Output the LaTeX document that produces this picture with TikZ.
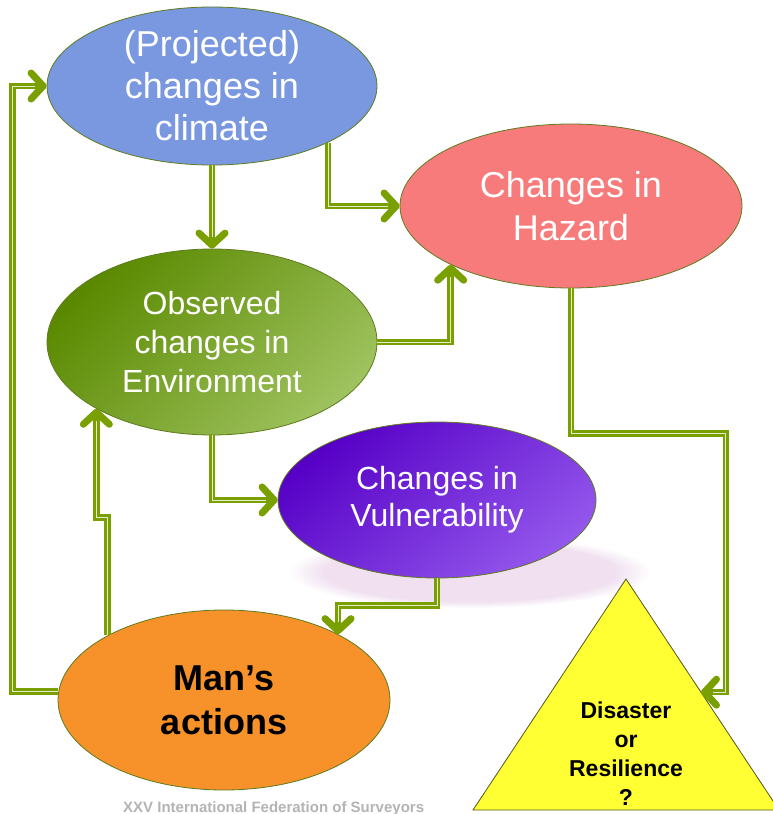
\documentclass[tikz,border=0pt]{standalone}
\usepackage{fontspec}
\setmainfont{Liberation Sans}
\usetikzlibrary{arrows.meta,shapes.geometric,calc,fadings}
\usepackage{xcolor}

\definecolor{linkgreen}{HTML}{79A000}
\definecolor{rimgreen}{HTML}{5E7B1E}
\definecolor{climatefill}{HTML}{7A98E0}
\definecolor{hazardfill}{HTML}{F77B7B}
\definecolor{envdark}{HTML}{5A8900}
\definecolor{envlight}{HTML}{9EC25E}
\definecolor{vulndark}{HTML}{5600C6}
\definecolor{vulnlight}{HTML}{9357EC}
\definecolor{actionsfill}{HTML}{F7922B}
\definecolor{trifill}{HTML}{FFFF33}
\definecolor{tririm}{HTML}{55561C}
\definecolor{footgray}{HTML}{B4B4B4}

\begin{document}
\begin{tikzpicture}[x=1pt, y=-1pt,
    bubble/.style={ellipse, draw=rimgreen, line width=0.8pt, inner sep=0pt, align=center, text=white},
    link/.style={draw=linkgreen, line width=6.5pt,
        -{Straight Barb[length=12pt, width=26pt, line width=7pt, round]},
        postaction={draw=white!80!linkgreen, line width=1pt, arrows=-, shorten >=12pt}}]
    \path[fill=white, use as bounding box] (0,0) rectangle (773,814);

    % soft glow under the vulnerability bubble
    \fill[violet!12, path fading=circle with fuzzy edge 20 percent] (470,572) ellipse [x radius=180, y radius=36];

    % Bubbles
    \node[bubble, fill=climatefill, minimum width=330, minimum height=158,
        font=\fontsize{36}{42}\selectfont] (climate) at (212,86) {(Projected)\\changes in\\climate};
    \node[bubble, fill=hazardfill, minimum width=342, minimum height=164,
        font=\fontsize{36}{43}\selectfont] (hazard) at (571,206) {Changes in\\Hazard};
    \node[bubble, top color=envdark, bottom color=envlight, shading angle=45,
        minimum width=330, minimum height=186,
        font=\fontsize{32}{39}\selectfont] (env) at (212,342) {Observed\\changes in\\Environment};
    \node[bubble, top color=vulndark, bottom color=vulnlight, shading angle=40,
        minimum width=318, minimum height=156,
        font=\fontsize{32}{37}\selectfont] (vuln) at (437,500) {Changes in\\Vulnerability};
    \node[bubble, fill=actionsfill, text=black, minimum width=332, minimum height=180,
        font=\fontsize{36}{44}\selectfont\bfseries] (actions) at (224,700) {Man’s\\actions};

    % Outcome triangle
    \coordinate (apex) at (626,579);
    \coordinate (base-l) at (473,810);
    \coordinate (base-r) at (779,810);
    \draw[fill=trifill, draw=tririm, line width=0.8pt] (apex) -- (base-l) -- (base-r) -- cycle;
    \node[font=\fontsize{23}{29}\selectfont\bfseries, align=center] (fate) at (626,754) {Disaster\\or\\Resilience\\?};
    \coordinate (fate-in) at ($(apex)!0.49!(base-r)$);

    \node[anchor=base west, inner sep=0pt, text=footgray, font=\fontsize{15}{18}\selectfont\bfseries]
        (footer) at (123,812) {XXV International Federation of Surveyors};

    % Links
    \draw[link] (climate.south) -- (env.north);
    \draw[link] (climate.-26) |- (hazard.west);
    \draw[link] (env.east) -| (hazard.206);
    \draw[link] (env.south) |- (vuln.west);
    \draw[link] (vuln.south) -- ++(0,27) -| (actions.30);
    \draw[link] (actions.151) -- ++(0,-118) -| (env.210);
    \draw[link] (actions.177) -- ++(-46,0) |- (climate.west);
    \draw[link] (hazard.south) -- ++(0,145) -| ([xshift=25pt]fate-in) -- (fate-in);
\end{tikzpicture}
\end{document}
